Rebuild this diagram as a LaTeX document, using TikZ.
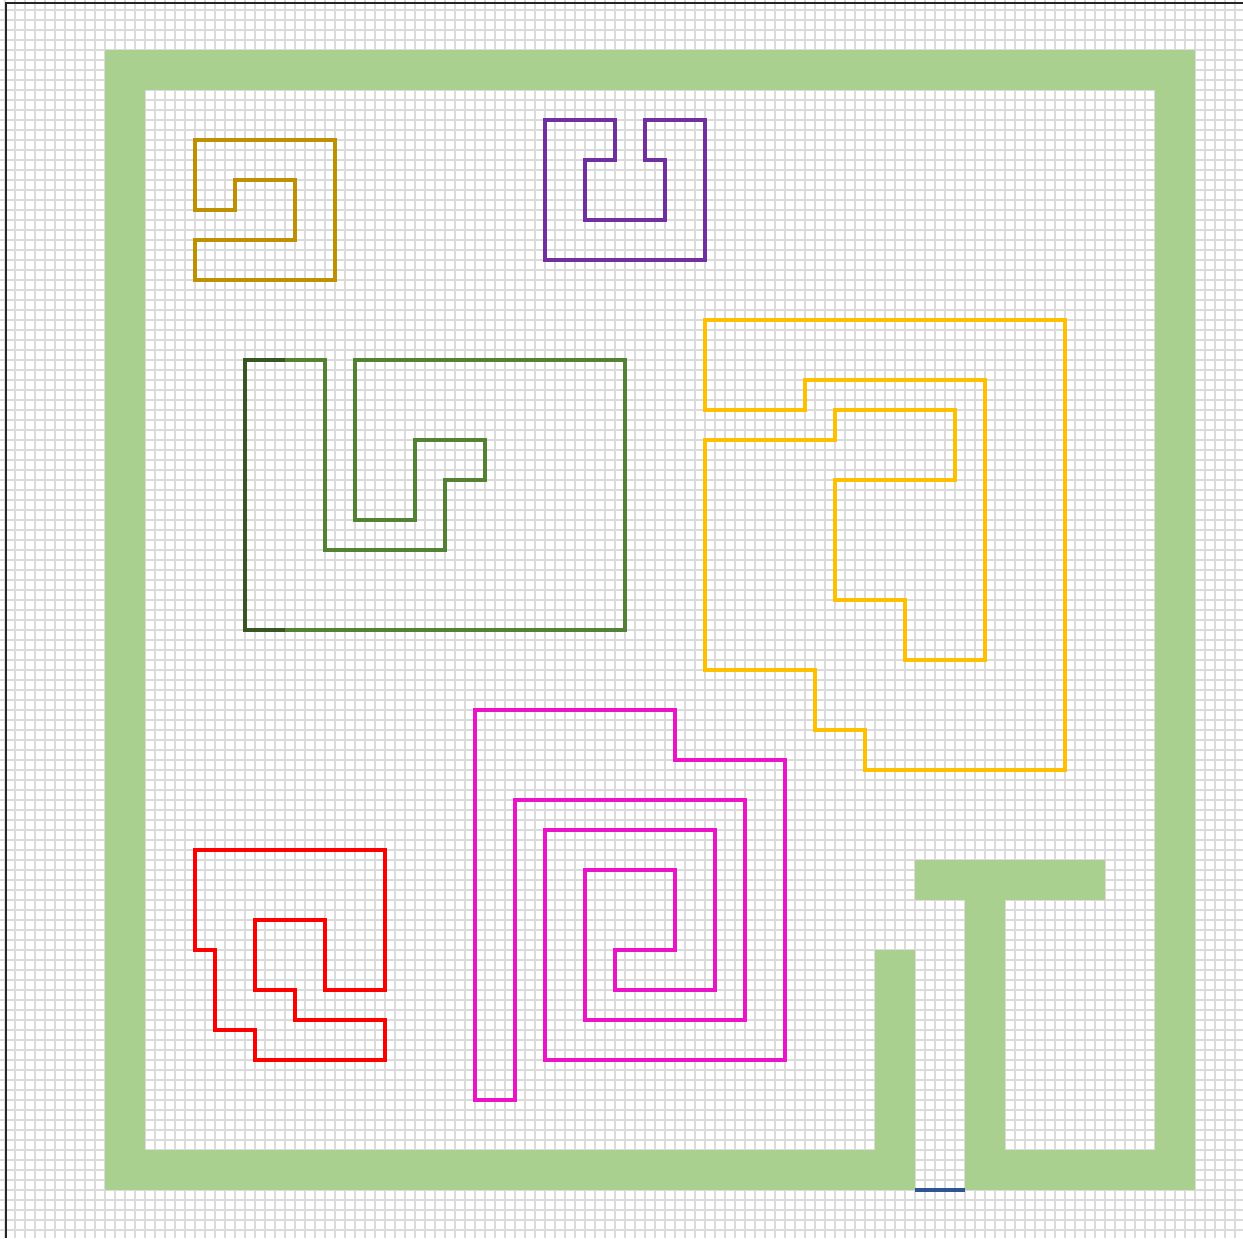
\documentclass[tikz,border=0pt]{standalone}
\usepackage{tikz}

\definecolor{wallgreen}{RGB}{169,208,142}
\definecolor{pathgold}{RGB}{191,144,0}
\definecolor{pathpurple}{RGB}{112,48,160}
\definecolor{pathgreen}{RGB}{84,130,53}
\definecolor{pathdkgreen}{RGB}{55,86,35}
\definecolor{pathyellow}{RGB}{255,192,0}
\definecolor{pathred}{RGB}{255,0,0}
\definecolor{pathpink}{RGB}{235,20,200}
\definecolor{doorblue}{RGB}{47,85,151}

\begin{document}
\begin{tikzpicture}[
  x=0.02cm, y=-0.02cm,
  gridline/.style={gray!28, line width=0.04cm},
  wall/.style={fill=wallgreen},
  route/.style={line width=0.07cm},
  clip=false]

    \useasboundingbox (0,0) rectangle (1243,1238);

    % sheet grid
    \foreach \gx in {5,15,...,1235}
        \draw[gridline] (\gx,0) -- (\gx,1238);
    \foreach \gy in {10,20,...,1230}
        \draw[gridline] (0,\gy) -- (1243,\gy);
    \draw[black!85, line width=0.05cm] (6,1238) -- (6,3) -- (1243,3);

    % outer walls
    \fill[wall] (105,50) rectangle (1195,90);
    \fill[wall] (105,50) rectangle (145,1190);
    \fill[wall] (1155,50) rectangle (1195,1190);
    \fill[wall] (105,1150) rectangle (915,1190);
    \fill[wall] (965,1150) rectangle (1195,1190);

    % exit walls
    \fill[wall] (875,950) rectangle (915,1190);
    \fill[wall] (965,900) rectangle (1005,1190);
    \fill[wall] (915,860) rectangle (1105,900);
    \draw[doorblue, line width=0.07cm] (915,1190) -- (965,1190);

    \draw[route, pathgold] (195,210) -- (235,210) -- (235,180) -- (295,180) -- (295,240)
        -- (195,240) -- (195,280) -- (335,280) -- (335,140) -- (195,140) -- cycle;

    \draw[route, pathpurple] (545,120) -- (615,120) -- (615,160) -- (585,160) -- (585,220)
        -- (665,220) -- (665,160) -- (645,160) -- (645,120) -- (705,120) -- (705,260)
        -- (545,260) -- cycle;

    \draw[route, pathgreen] (245,360) -- (325,360) -- (325,550) -- (445,550) -- (445,480)
        -- (485,480) -- (485,440) -- (415,440) -- (415,520) -- (355,520) -- (355,360)
        -- (625,360) -- (625,630) -- (245,630) -- cycle;
    \draw[route, pathdkgreen] (285,360) -- (245,360) -- (245,630) -- (285,630);

    \draw[route, pathyellow] (705,320) -- (1065,320) -- (1065,770) -- (865,770) -- (865,730)
        -- (815,730) -- (815,670) -- (705,670) -- (705,440) -- (835,440) -- (835,410)
        -- (955,410) -- (955,480) -- (835,480) -- (835,600) -- (905,600) -- (905,660)
        -- (985,660) -- (985,380) -- (805,380) -- (805,410) -- (705,410) -- cycle;

    \draw[route, pathred] (195,850) -- (385,850) -- (385,990) -- (325,990) -- (325,920)
        -- (255,920) -- (255,990) -- (295,990) -- (295,1020) -- (385,1020) -- (385,1060)
        -- (255,1060) -- (255,1030) -- (215,1030) -- (215,950) -- (195,950) -- cycle;

    \draw[route, pathpink] (475,710) -- (675,710) -- (675,760) -- (785,760) -- (785,1060)
        -- (545,1060) -- (545,830) -- (715,830) -- (715,990) -- (615,990) -- (615,950)
        -- (675,950) -- (675,870) -- (585,870) -- (585,1020) -- (745,1020) -- (745,800)
        -- (515,800) -- (515,1100) -- (475,1100) -- cycle;

\end{tikzpicture}
\end{document}
